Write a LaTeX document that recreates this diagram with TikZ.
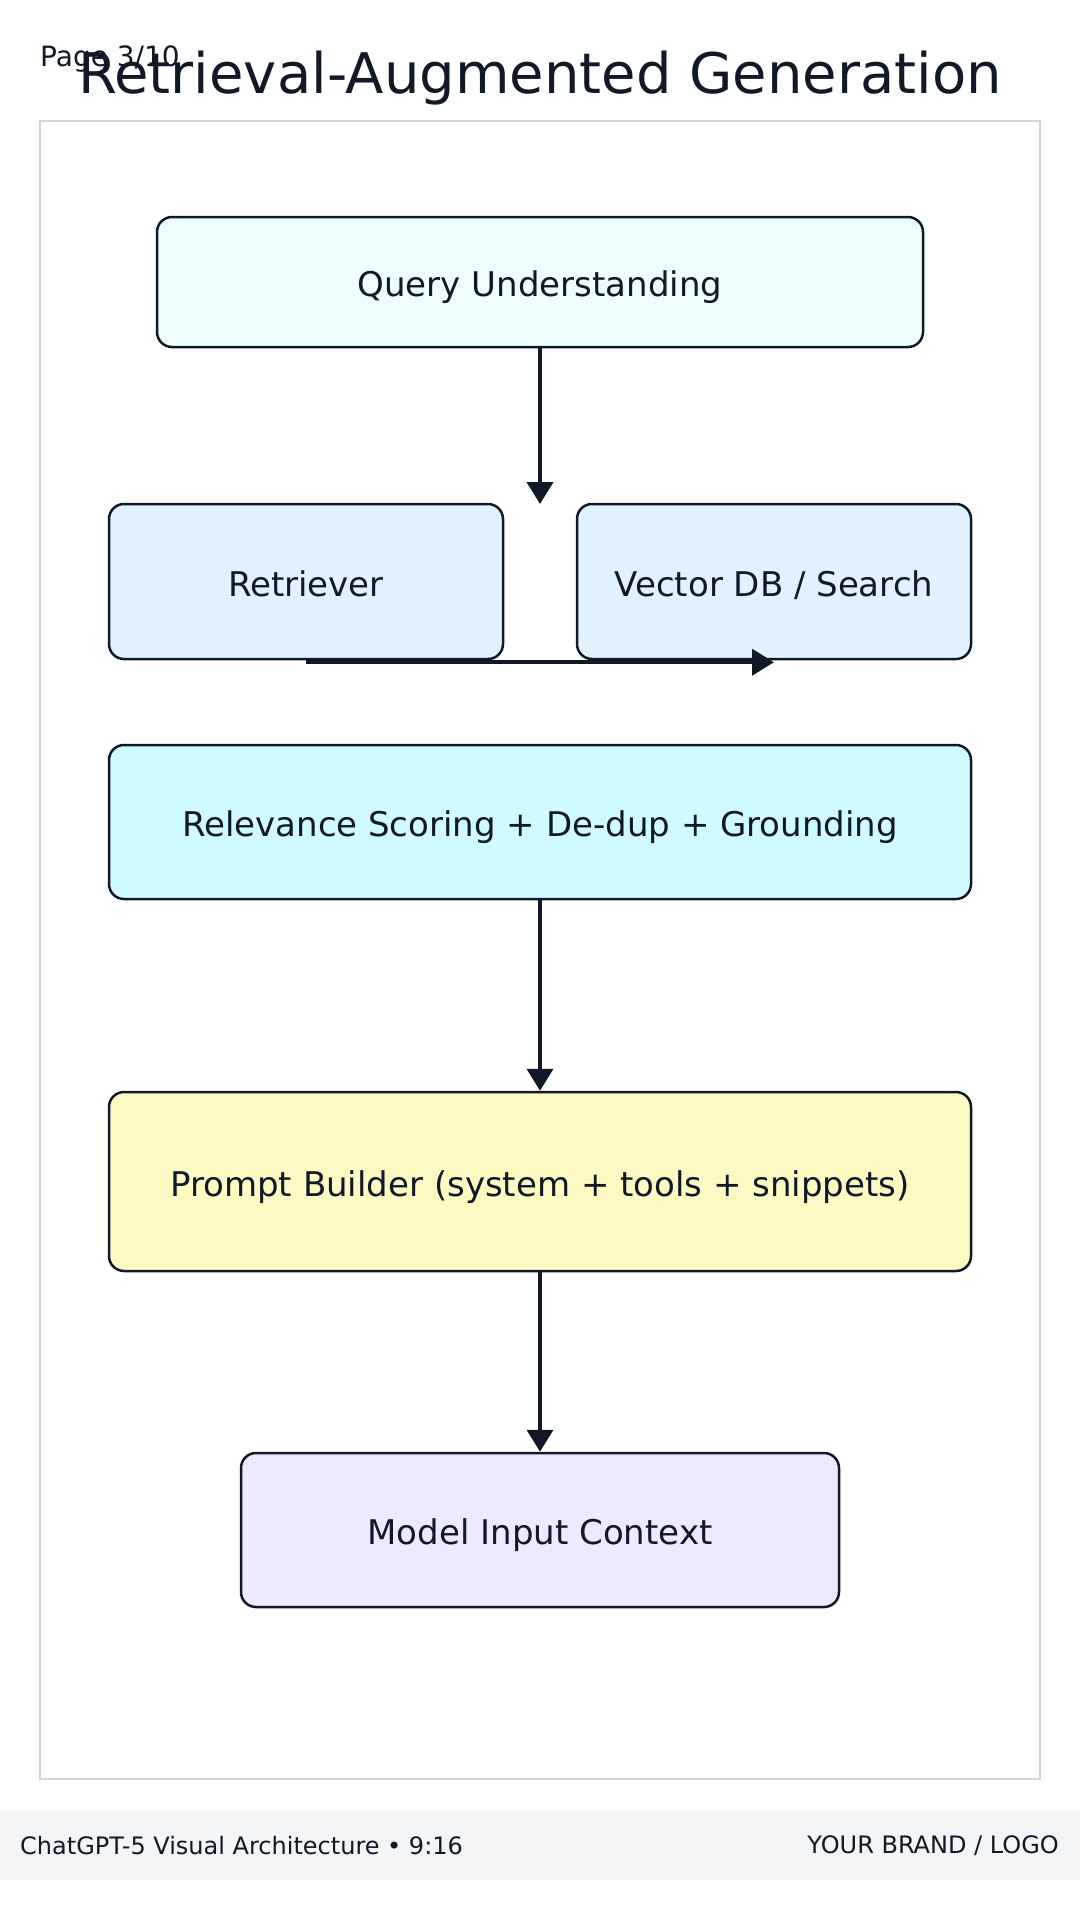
\documentclass[tikz,border=0pt]{standalone}
\usepackage{fontspec}
\setmainfont{DejaVu Sans}
\usetikzlibrary{arrows.meta}

\definecolor{ink}{HTML}{111827}
\definecolor{framegray}{HTML}{D1D5DB}
\definecolor{footgray}{HTML}{F3F4F6}
\definecolor{querycol}{HTML}{ECFEFF}
\definecolor{retrcol}{HTML}{E0F2FE}
\definecolor{relcol}{HTML}{CFFAFE}
\definecolor{promptcol}{HTML}{FEF9C3}
\definecolor{modelcol}{HTML}{EDE9FE}

\begin{document}
\begin{tikzpicture}[x=1pt, y=-1pt, every node/.style={text=ink, inner sep=0pt},
	stagebox/.style={draw=ink, line width=2.5pt, rounded corners=15pt, font=\fontsize{34}{40}\selectfont, text height=37pt, text depth=8pt},
	flow/.style={draw=ink, line width=4pt, -{Triangle[length=22pt,width=26pt]}}
	]

\useasboundingbox[fill=white] (0,0) rectangle (1080,1920);
\draw[framegray, line width=2pt] (40,121) rectangle (1040,1779);

\node[anchor=base] (title) at (540,93) {\fontsize{56}{64}\selectfont Retrieval-Augmented Generation};
\node[anchor=base west] (page) at (40,66) {\fontsize{28}{32}\selectfont Page 3/10};

\node[stagebox, fill=querycol, minimum width=766pt, minimum height=130pt] (query) at (540,282) {Query Understanding};
\node[stagebox, fill=retrcol, minimum width=394pt, minimum height=155pt] (retr) at (306,581.5) {Retriever};
\node[stagebox, fill=retrcol, minimum width=394pt, minimum height=155pt] (vdb) at (774,581.5) {Vector DB / Search};
\node[stagebox, fill=relcol, minimum width=862pt, minimum height=154pt] (rel) at (540,822) {Relevance Scoring + De-dup + Grounding};
\node[stagebox, fill=promptcol, minimum width=862pt, minimum height=179pt] (prompt) at (540,1181.5) {Prompt Builder (system + tools + snippets)};
\node[stagebox, fill=modelcol, minimum width=598pt, minimum height=154pt] (model) at (540,1530) {Model Input Context};

\coordinate (gap) at (540,504);

\draw[flow] (query.south) -- (gap);
\draw[flow] ([yshift=-2pt]retr.south) -- ([yshift=-2pt]vdb.south);
\draw[flow] (rel.south) -- (prompt.north);
\draw[flow] (prompt.south) -- (model.north);

% footer
\fill[footgray] (0,1810) rectangle (1080,1880);
\node[anchor=west] (footl) at (20,1846) {\fontsize{24}{28}\selectfont ChatGPT-5 Visual Architecture • 9:16};
\node[anchor=east] (footr) at (1059,1846) {\fontsize{24}{28}\selectfont YOUR BRAND / LOGO};

\end{tikzpicture}
\end{document}
